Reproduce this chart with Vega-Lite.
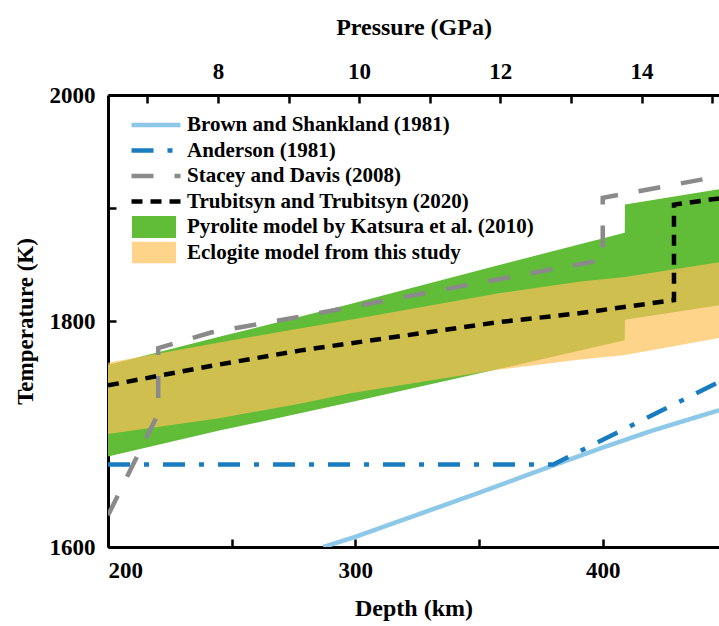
{
  "$schema": "https://vega.github.io/schema/vega-lite/v6.json",
  "width": 611,
  "height": 452,
  "autosize": {"type": "none"},
  "padding": {"left": 108, "top": 95, "right": 0, "bottom": 79},
  "background": "white",
  "datasets": {
    "lines": [
      {"series": "Brown and Shankland (1981)", "i": 0, "depth": 287, "T": 1600},
      {"series": "Brown and Shankland (1981)", "i": 1, "depth": 300, "T": 1609},
      {"series": "Brown and Shankland (1981)", "i": 2, "depth": 350, "T": 1648},
      {"series": "Brown and Shankland (1981)", "i": 3, "depth": 381, "T": 1673},
      {"series": "Brown and Shankland (1981)", "i": 4, "depth": 400, "T": 1688},
      {"series": "Brown and Shankland (1981)", "i": 5, "depth": 420, "T": 1703},
      {"series": "Brown and Shankland (1981)", "i": 6, "depth": 447, "T": 1721},
      {"series": "Anderson (1981)", "i": 0, "depth": 200, "T": 1673},
      {"series": "Anderson (1981)", "i": 1, "depth": 380, "T": 1673},
      {"series": "Anderson (1981)", "i": 2, "depth": 447, "T": 1746},
      {"series": "Stacey and Davis (2008)", "i": 0, "depth": 200, "T": 1628},
      {"series": "Stacey and Davis (2008)", "i": 1, "depth": 220.3, "T": 1718},
      {"series": "Stacey and Davis (2008)", "i": 2, "depth": 220.3, "T": 1776},
      {"series": "Stacey and Davis (2008)", "i": 3, "depth": 242, "T": 1790},
      {"series": "Stacey and Davis (2008)", "i": 4, "depth": 278, "T": 1804},
      {"series": "Stacey and Davis (2008)", "i": 5, "depth": 358, "T": 1837},
      {"series": "Stacey and Davis (2008)", "i": 6, "depth": 400, "T": 1854},
      {"series": "Stacey and Davis (2008)", "i": 7, "depth": 400, "T": 1909},
      {"series": "Stacey and Davis (2008)", "i": 8, "depth": 447, "T": 1928},
      {"series": "Trubitsyn and Trubitsyn (2020)", "i": 0, "depth": 200, "T": 1743},
      {"series": "Trubitsyn and Trubitsyn (2020)", "i": 1, "depth": 241, "T": 1760},
      {"series": "Trubitsyn and Trubitsyn (2020)", "i": 2, "depth": 278, "T": 1774},
      {"series": "Trubitsyn and Trubitsyn (2020)", "i": 3, "depth": 358, "T": 1799},
      {"series": "Trubitsyn and Trubitsyn (2020)", "i": 4, "depth": 391, "T": 1807},
      {"series": "Trubitsyn and Trubitsyn (2020)", "i": 5, "depth": 428.8, "T": 1818.5},
      {"series": "Trubitsyn and Trubitsyn (2020)", "i": 6, "depth": 428.8, "T": 1903},
      {"series": "Trubitsyn and Trubitsyn (2020)", "i": 7, "depth": 447, "T": 1908.5}
    ],
    "bands": [
      {"model": "Pyrolite model by Katsura et al. (2010)", "depth": 200, "lo": 1680, "hi": 1761},
      {"model": "Pyrolite model by Katsura et al. (2010)", "depth": 245, "lo": 1703, "hi": 1786},
      {"model": "Pyrolite model by Katsura et al. (2010)", "depth": 298, "lo": 1728, "hi": 1815},
      {"model": "Pyrolite model by Katsura et al. (2010)", "depth": 357, "lo": 1757, "hi": 1849},
      {"model": "Pyrolite model by Katsura et al. (2010)", "depth": 408.9, "lo": 1783, "hi": 1878},
      {"model": "Pyrolite model by Katsura et al. (2010)", "depth": 409, "lo": 1801, "hi": 1903},
      {"model": "Pyrolite model by Katsura et al. (2010)", "depth": 447, "lo": 1814, "hi": 1916.5},
      {"model": "Eclogite model from this study", "depth": 200, "lo": 1700, "hi": 1763},
      {"model": "Eclogite model from this study", "depth": 245, "lo": 1714, "hi": 1781},
      {"model": "Eclogite model from this study", "depth": 278, "lo": 1727, "hi": 1793.5},
      {"model": "Eclogite model from this study", "depth": 298, "lo": 1736, "hi": 1801},
      {"model": "Eclogite model from this study", "depth": 358, "lo": 1757, "hi": 1824.5},
      {"model": "Eclogite model from this study", "depth": 391, "lo": 1766, "hi": 1835},
      {"model": "Eclogite model from this study", "depth": 409, "lo": 1770, "hi": 1839},
      {"model": "Eclogite model from this study", "depth": 447, "lo": 1785, "hi": 1852}
    ],
    "pressure": [
      {"P": 8}
    ]
  },
  "layer": [
    {
      "layer": [
        {
          "data": {"name": "bands"},
          "mark": {"type": "area", "clip": true},
          "encoding": {
            "x": {"field": "depth", "type": "quantitative", "scale": {"domain": [200, 447], "nice": false, "zero": false},
              "axis": {"title": "Depth (km)", "values": [200, 250, 300, 350, 400], "format": "d", "labelExpr": "datum.value % 100 == 0 ? datum.label : ''", "labelPadding": 20, "titlePadding": 14, "titleFontSize": 24}},
            "y": {"field": "lo", "type": "quantitative", "scale": {"domain": [1600, 2000], "nice": false, "zero": false},
              "axis": {"title": "Temperature (K)", "values": [1600, 1700, 1800, 1900, 2000], "format": "d", "labelExpr": "datum.value % 200 == 0 ? datum.label : ''", "labelPadding": 21, "titlePadding": 12}},
            "y2": {"field": "hi"},
            "fill": {"field": "model", "type": "nominal", "title": null,
              "scale": {"domain": ["Pyrolite model by Katsura et al. (2010)", "Eclogite model from this study"], "range": ["#61BD38", "#FEC059"]},
              "legend": {"orient": "none", "legendX": 24, "legendY": 121, "padding": 0, "symbolType": "M-1,-0.5H1V0.5H-1Z", "symbolSize": 1936, "symbolStrokeWidth": 0, "clipHeight": 22, "rowPadding": 3.5, "labelOffset": 11, "labelFont": "Liberation Serif", "labelFontWeight": "bold", "labelFontSize": 21, "labelColor": "black", "labelLimit": 500}},
            "opacity": {"field": "model", "type": "ordinal", "title": null,
              "scale": {"domain": ["Pyrolite model by Katsura et al. (2010)", "Eclogite model from this study"], "range": [1, 0.7]}}
          }
        },
        {
          "data": {"name": "lines"},
          "mark": {"type": "line", "clip": true, "strokeWidth": 4.5, "strokeCap": "butt"},
          "encoding": {
            "x": {"field": "depth", "type": "quantitative"},
            "y": {"field": "T", "type": "quantitative"},
            "order": {"field": "i", "type": "quantitative"},
            "color": {"field": "series", "type": "nominal", "title": null,
              "scale": {"domain": ["Brown and Shankland (1981)", "Anderson (1981)", "Stacey and Davis (2008)", "Trubitsyn and Trubitsyn (2020)"], "range": ["#8DC8E8", "#1A7CC0", "#8A8A8A", "#000000"]},
              "legend": {"orient": "none", "legendX": 21, "legendY": 19, "padding": 0, "symbolType": "stroke", "symbolSize": 2401, "symbolStrokeWidth": 4.5, "clipHeight": 22, "rowPadding": 3.5, "labelOffset": 4, "labelFont": "Liberation Serif", "labelFontWeight": "bold", "labelFontSize": 21, "labelColor": "black", "labelLimit": 500}},
            "strokeDash": {"field": "series", "type": "nominal", "title": null,
              "scale": {"domain": ["Brown and Shankland (1981)", "Anderson (1981)", "Stacey and Davis (2008)", "Trubitsyn and Trubitsyn (2020)"], "range": [[1, 0], [22, 14, 5, 14], [22, 21], [11, 8]]}}
          }
        }
      ]
    },
    {
      "data": {"name": "pressure"},
      "mark": {"type": "point", "opacity": 0},
      "encoding": {
        "x": {"field": "P", "type": "quantitative", "scale": {"domain": [6.444, 15.096], "nice": false, "zero": false},
          "axis": {"orient": "top", "title": "Pressure (GPa)", "values": [7, 8, 9, 10, 11, 12, 13, 14, 15], "format": "d", "labelExpr": "datum.value % 2 == 0 ? datum.label : ''", "labelPadding": 20, "titlePadding": 21, "titleFontSize": 24}}
      }
    }
  ],
  "resolve": {"scale": {"x": "independent"}},
  "config": {
    "view": {"stroke": null},
    "axis": {"grid": false, "domainColor": "black", "domainWidth": 3, "tickColor": "black", "tickWidth": 2.5, "tickSize": -8,
      "labelFont": "Liberation Serif", "labelFontWeight": "bold", "labelFontSize": 23, "labelColor": "black",
      "titleFont": "Liberation Serif", "titleFontWeight": "bold", "titleFontSize": 23, "titleColor": "black"}
  }
}
